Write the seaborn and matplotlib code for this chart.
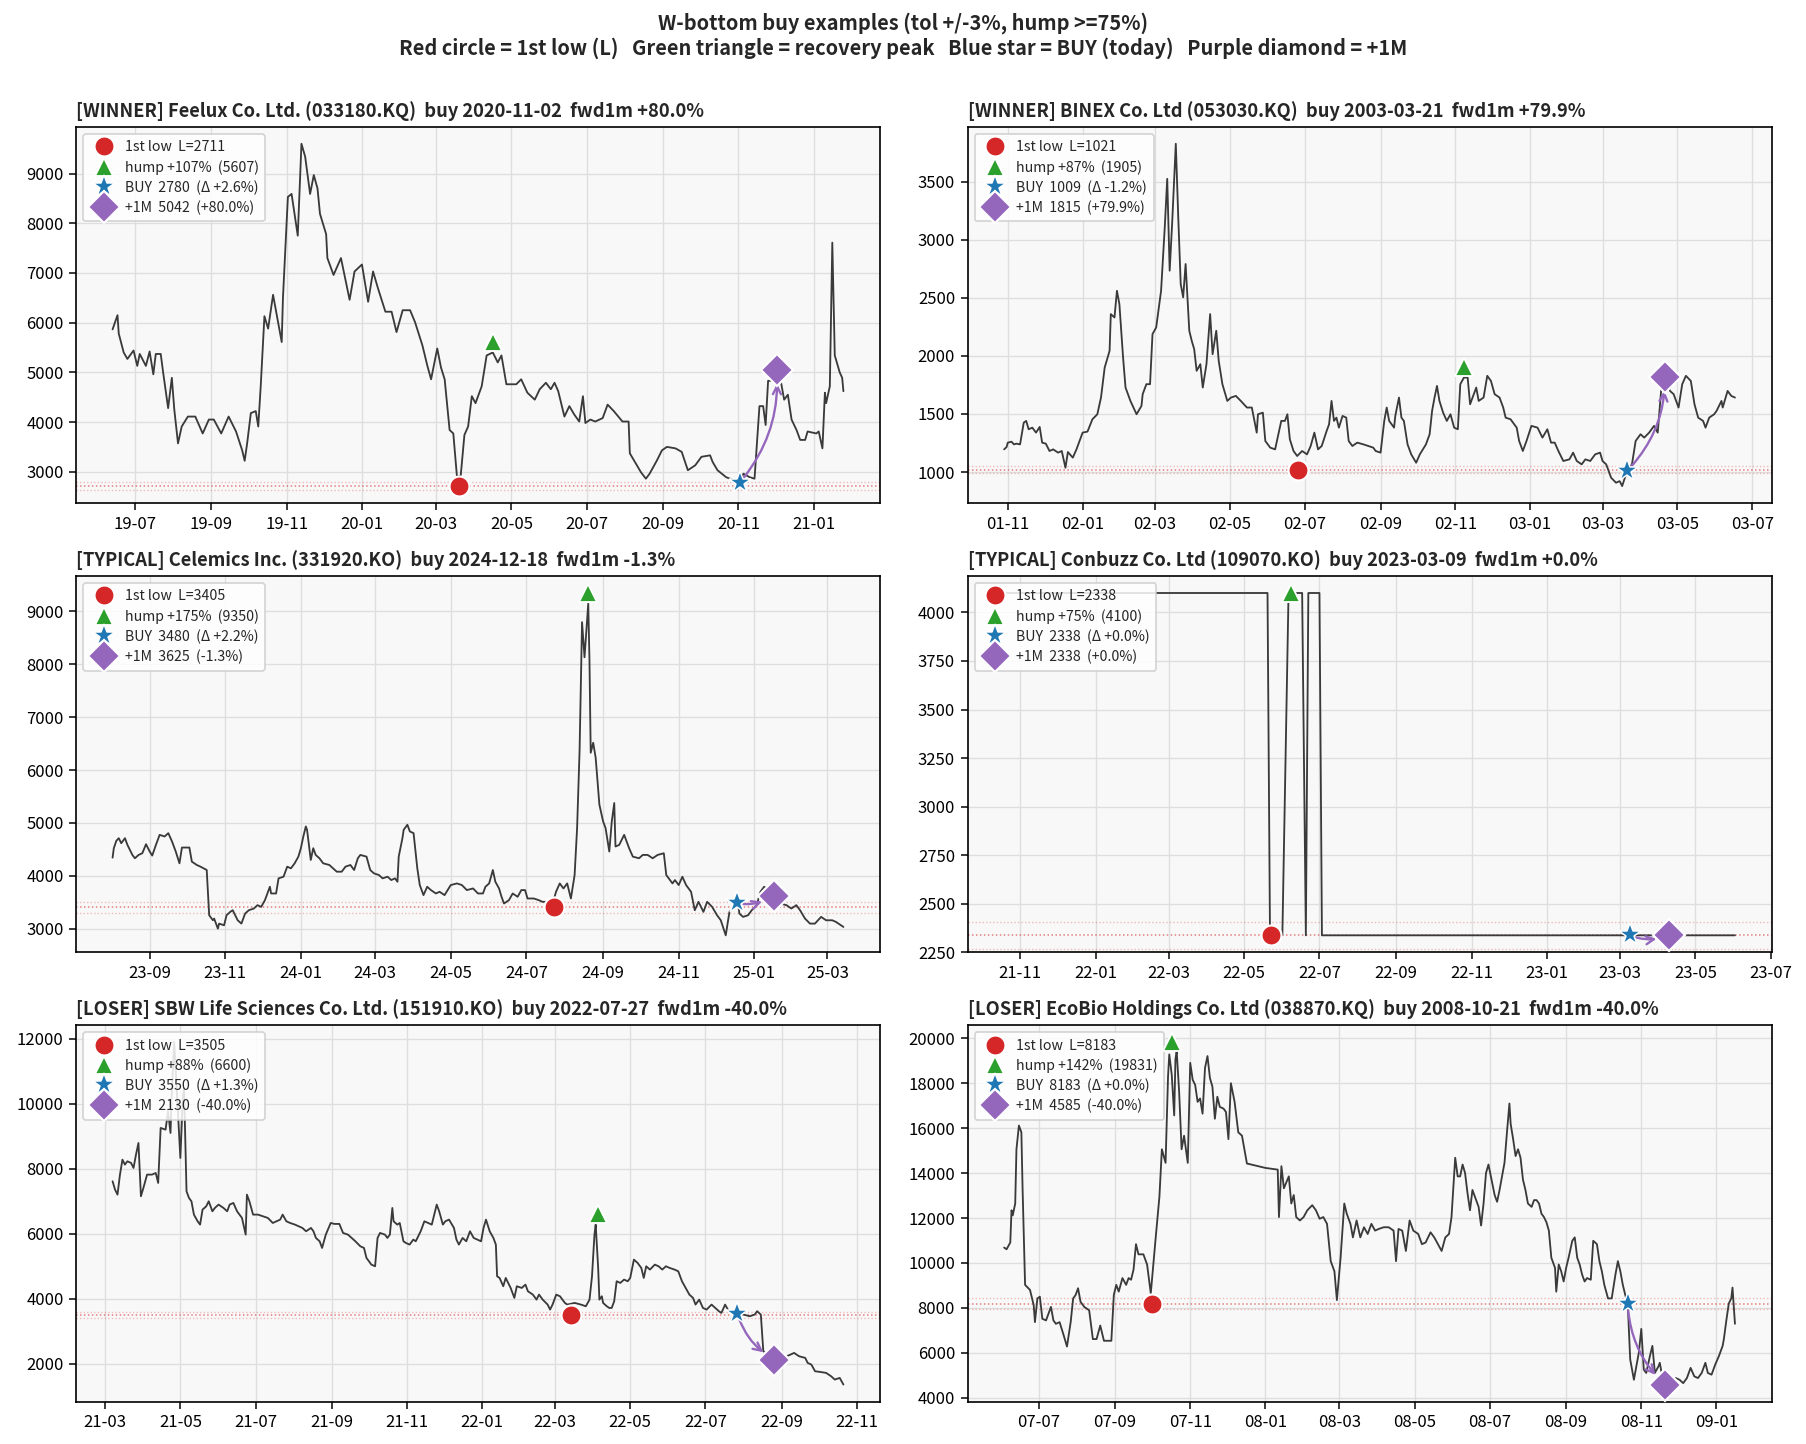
import matplotlib
matplotlib.use("Agg")
import matplotlib.pyplot as plt
import matplotlib.dates as mdates
import pandas as pd
import seaborn as sns

# ---------------- data ----------------
categories = ["WINNER", "WINNER", "TYPICAL", "TYPICAL", "LOSER", "LOSER"]
names = ["Feelux Co. Ltd.", "BINEX Co. Ltd", "Celemics Inc.", "Conbuzz Co. Ltd",
         "SBW Life Sciences Co. Ltd.", "EcoBio Holdings Co. Ltd"]
tickers = ["033180.KQ", "053030.KQ", "331920.KO", "109070.KO", "151910.KO", "038870.KQ"]
buy_dates = ["2020-11-02", "2003-03-21", "2024-12-18", "2023-03-09", "2022-07-27", "2008-10-21"]
fwd1m = [80.0, 79.9, -1.3, 0.0, -40.0, -40.0]

low_dates = ["2020-03-20", "2002-06-26", "2024-07-23", "2022-05-23", "2022-03-14", "2007-10-01"]
low_vals = [2711, 1021, 3405, 2338, 3505, 8183]
hump_dates = ["2020-04-16", "2002-11-08", "2024-08-20", "2022-06-08", "2022-04-05", "2007-10-17"]
hump_vals = [5607, 1905, 9350, 4100, 6600, 19831]
hump_pct = [107, 87, 175, 75, 88, 142]
buy_vals = [2780, 1009, 3480, 2338, 3550, 8183]
buy_delta = [2.6, -1.2, 2.2, 0.0, 1.3, 0.0]
m1_dates = ["2020-12-02", "2003-04-21", "2025-01-17", "2023-04-10", "2022-08-26", "2008-11-20"]
m1_vals = [5042, 1815, 3625, 2338, 2130, 4585]

# price series: (day offset from origin, close)
origins = ["2019-07-01", "2001-11-01", "2023-09-01", "2021-11-01", "2021-03-01", "2007-07-01"]

feelux = [(-18,5865),(-14,6150),(-13,5780),(-9,5400),(-6,5270),(-1,5440),(2,5130),(4,5370),(9,5130),(12,5420),(15,4960),(17,5370),(21,5370),(23,4990),(27,4280),(30,4890),(32,4250),(35,3570),(38,3910),(43,4110),(49,4110),(55,3770),(60,4050),(64,4050),(70,3770),(76,4110),(82,3810),(87,3430),(89,3220),(91,3570),(94,4180),(98,4220),(100,3910),(102,4720),(105,6130),(108,5880),(112,6560),(114,6290),(119,5610),(120,6490),(124,8530),(127,8590),(132,7750),(135,9600),(138,9340),(142,8590),(145,8970),(148,8700),(150,8190),(155,7780),(156,7300),(161,6960),(167,7300),(174,6460),(178,7030),(184,7170),(189,6420),(193,7030),(197,6690),(203,6220),(208,6220),(212,5810),(217,6250),(223,6250),(227,6010),(233,5540),(237,5130),(240,4860),(245,5480),(248,5100),(251,4860),(255,3840),(258,3770),(261,2890),(264,2920),(267,3740),(270,3910),(273,4520),(276,4380),(281,4720),(285,5340),(290,5400),(294,5200),(297,5340),(301,4760),(309,4760),(313,4860),(318,4590),(324,4450),(328,4660),(333,4790),(337,4660),(340,4790),(343,4620),(348,4110),(352,4320),(356,4150),(360,4010),(363,4520),(365,3980),(369,4050),(373,4010),(379,4080),(383,4350),(388,4220),(395,4010),(400,4010),(401,3370),(406,3160),(410,2990),(414,2860),(417,2960),(423,3230),(427,3430),(431,3500),(438,3470),(443,3400),(448,3030),(454,3130),(459,3300),(466,3330),(468,3200),(472,3030),(479,2890),(490,2780),(493,2960),(498,2890),(502,2860),(506,4320),(509,4320),(511,3940),(513,4830),(515,4830),(520,5042),(523,4860),(526,4450),(529,4550),(532,4050),(536,3840),(539,3640),(543,3640),(545,3810),(552,3770),(554,3810),(557,3470),(559,4590),(560,4380),(563,4720),(565,7610),(567,5340),(571,5000),(573,4890),(574,4620)]

binex = [(-3,1195),(-1,1215),(0,1253),(3,1261),(5,1238),(7,1244),(10,1238),(13,1425),(15,1440),(17,1368),(20,1382),(23,1339),(26,1388),(28,1253),(31,1244),(34,1181),(37,1195),(41,1167),(44,1181),(47,1037),(49,1172),(53,1124),(56,1195),(61,1339),(65,1348),(69,1454),(73,1497),(76,1641),(79,1899),(83,2043),(84,2359),(87,2330),(89,2560),(91,2445),(94,1986),(96,1727),(100,1612),(105,1497),(109,1569),(110,1670),(113,1756),(116,1756),(118,2187),(121,2244),(125,2560),(128,3106),(130,3523),(132,2733),(134,3135),(137,3825),(139,3193),(141,2618),(143,2503),(145,2790),(148,2216),(150,2129),(152,2057),(154,1871),(157,1928),(159,1727),(162,1928),(165,2359),(167,2014),(170,2216),(172,1957),(175,1756),(179,1612),(182,1641),(186,1655),(190,1612),(195,1555),(199,1555),(203,1339),(204,1497),(208,1511),(210,1267),(214,1210),(218,1195),(223,1440),(226,1440),(228,1497),(230,1282),(233,1181),(236,1138),(240,1181),(244,1152),(247,1224),(250,1339),(253,1195),(256,1224),(260,1353),(262,1411),(264,1612),(266,1440),(268,1468),(270,1382),(273,1483),(276,1468),(278,1267),(281,1224),(285,1253),(290,1238),(294,1224),(298,1210),(300,1181),(304,1167),(307,1440),(309,1555),(311,1440),(315,1382),(316,1483),(319,1641),(321,1468),(323,1440),(326,1238),(329,1152),(333,1080),(336,1152),(341,1238),(344,1325),(346,1526),(348,1641),(350,1741),(352,1612),(355,1511),(358,1440),(361,1497),(364,1382),(367,1368),(369,1756),(372,1813),(375,1813),(377,1583),(379,1641),(382,1727),(384,1612),(388,1641),(391,1828),(394,1784),(397,1670),(401,1641),(404,1555),(406,1468),(410,1454),(415,1382),(417,1267),(420,1181),(423,1267),(427,1397),(432,1382),(436,1296),(440,1368),(443,1253),(446,1253),(449,1181),(453,1095),(458,1109),(461,1167),(464,1095),(468,1066),(471,1109),(475,1095),(479,1152),(483,1167),(485,1095),(488,1066),(492,951),(496,908),(499,922),(501,879),(505,1009),(509,1066),(512,1267),(516,1325),(519,1296),(523,1339),(527,1397),(530,1339),(533,1727),(536,1815),(540,1698),(543,1670),(547,1555),(550,1756),(553,1828),(557,1784),(560,1583),(563,1468),(567,1440),(569,1382),(572,1468),(576,1497),(578,1526),(582,1612),(583,1555),(587,1698),(590,1655),(593,1641)]

celemics = [(-30,4343),(-29,4521),(-27,4660),(-25,4711),(-23,4616),(-20,4711),(-18,4584),(-14,4394),(-12,4331),(-9,4394),(-6,4426),(-3,4597),(0,4458),(2,4382),(5,4584),(8,4774),(12,4743),(15,4806),(18,4648),(21,4458),(24,4236),(26,4534),(32,4534),(34,4267),(38,4204),(41,4172),(46,4109),(48,3253),(51,3158),(52,3190),(55,3000),(56,3095),(60,3063),(62,3253),(65,3317),(67,3348),(71,3158),(74,3095),(77,3285),(80,3348),(84,3380),(87,3444),(90,3412),(93,3539),(97,3792),(98,3665),(102,3665),(104,3951),(108,3982),(111,4172),(114,4141),(117,4236),(120,4362),(122,4521),(124,4743),(126,4933),(127,4870),(130,4299),(132,4521),(134,4394),(137,4331),(140,4236),(145,4204),(148,4141),(151,4077),(155,4077),(158,4172),(162,4204),(165,4109),(168,4331),(170,4394),(175,4362),(178,4109),(181,4046),(185,4014),(188,3951),(192,3982),(195,3919),(198,3951),(200,3887),(201,4362),(204,4711),(205,4870),(208,4965),(210,4838),(213,4806),(216,4141),(218,3824),(221,3634),(224,3792),(227,3729),(231,3665),(234,3697),(238,3634),(243,3824),(248,3855),(252,3824),(256,3729),(261,3760),(265,3665),(269,3665),(271,3792),(274,3855),(277,4109),(279,3887),(282,3760),(284,3602),(286,3475),(290,3539),(293,3665),(297,3602),(300,3729),(303,3729),(305,3570),(310,3570),(314,3539),(317,3507),(320,3507),(325,3450),(328,3697),(331,3855),(334,3760),(337,3855),(340,3570),(343,4014),(345,4901),(347,6359),(349,8798),(351,8134),(354,9147),(355,8070),(356,6327),(358,6517),(360,6232),(363,5345),(366,5028),(368,4901),(371,4458),(373,5028),(375,5376),(376,4553),(379,4584),(383,4774),(387,4521),(390,4362),(395,4331),(398,4394),(402,4394),(406,4331),(410,4394),(415,4426),(417,4014),(422,3855),(424,3919),(427,3824),(430,3982),(433,3824),(437,3697),(440,3348),(443,3507),(447,3317),(450,3507),(454,3412),(458,3253),(461,3158),(465,2873),(468,3317),(475,3480),(476,3285),(479,3222),(483,3253),(486,3348),(490,3444),(493,3697),(496,3792),(505,3625),(509,3475),(514,3444),(518,3380),(522,3444),(525,3348),(529,3190),(533,3095),(537,3095),(542,3222),(546,3158),(551,3158),(554,3127),(560,3032)]

conbuzz = [(-13,4100),(200,4100),(202,2338),(212,2338),(217,4100),(228,4100),(231,2338),(233,4100),(242,4100),(244,2338),(578,2338)]

sbw = [(6,7621),(8,7364),(10,7210),(12,7826),(14,8287),(16,8133),(18,8236),(21,8185),(23,8031),(25,8441),(27,8800),(29,7159),(31,7415),(34,7826),(38,7826),(41,7877),(43,7569),(45,9262),(49,9210),(51,9774),(53,9108),(54,10287),(56,11900),(58,10492),(61,8338),(63,10185),(64,10492),(66,7313),(68,7108),(70,7005),(72,6595),(75,6390),(77,6287),(79,6749),(82,6851),(84,7005),(87,6697),(89,6800),(92,6903),(96,6800),(99,6697),(101,6903),(104,6954),(107,6697),(111,6492),(114,5979),(115,7210),(117,7005),(120,6595),(124,6595),(128,6544),(132,6492),(136,6338),(139,6390),(142,6441),(144,6595),(147,6390),(150,6338),(154,6287),(157,6236),(160,6185),(163,6082),(167,6185),(169,6082),(171,5877),(174,5774),(176,5569),(179,5979),(183,6338),(186,6308),(190,6308),(193,6031),(197,5979),(200,5877),(203,5774),(207,5621),(210,5569),(212,5262),(214,5159),(216,5056),(219,5005),(221,5877),(223,6031),(227,5979),(229,5877),(231,5979),(233,6800),(234,6390),(237,6287),(239,6338),(242,5774),(244,5723),(247,5672),(250,5826),(252,5774),(256,6082),(259,6390),(262,6338),(265,6287),(269,6903),(271,6697),(274,6287),(276,6390),(279,6441),(283,6185),(285,5826),(287,5672),(290,5877),(293,5774),(296,6082),(299,5877),(302,5826),(305,5774),(307,6185),(309,6441),(312,6082),(315,5877),(317,5672),(318,4697),(320,4646),(323,4390),(325,4646),(329,4338),(332,4031),(334,4390),(338,4338),(341,4441),(343,4236),(347,4133),(350,3979),(352,4133),(355,3979),(359,3826),(361,3672),(363,3826),(366,4133),(369,4082),(373,3877),(375,3826),(381,3877),(386,3826),(390,3774),(393,3979),(395,4697),(397,5979),(398,6287),(400,4954),(401,3979),(403,4082),(404,3877),(407,3774),(409,3723),(411,3723),(413,3928),(415,4544),(418,4492),(421,4595),(424,4544),(426,4646),(429,5210),(432,5108),(435,4954),(437,4646),(439,5005),(442,4903),(446,5056),(449,5005),(452,4903),(455,5005),(458,4954),(462,4903),(465,4851),(468,4544),(471,4338),(474,4133),(477,4031),(479,3826),(482,3979),(485,3723),(488,3672),(492,3826),(495,3723),(498,3621),(500,3569),(503,3826),(506,3621),(513,3550),(518,3518),(523,3467),(527,3518),(529,3621),(532,3518),(534,2390),(536,2338),(544,2130),(548,2185),(553,2236),(559,2338),(563,2236),(568,2185),(570,2031),(573,1979),(576,1774),(580,1754),(585,1723),(589,1621),(592,1518),(596,1569),(599,1364)]

ecobio = [(-28,10687),(-26,10611),(-23,10913),(-22,12347),(-21,12121),(-19,12649),(-18,15064),(-16,16121),(-14,15819),(-13,13253),(-11,9026),(-7,8800),(-4,8121),(-3,7366),(-1,8423),(1,8498),(3,7517),(6,7442),(10,8045),(12,7442),(14,7291),(17,7366),(20,6838),(23,6279),(26,7366),(28,8423),(30,8574),(32,8875),(34,8272),(37,8045),(41,7894),(44,6611),(47,6611),(50,7215),(53,6536),(56,6536),(59,6536),(61,8574),(63,9026),(65,8725),(68,9328),(71,9026),(73,9328),(75,9253),(77,9706),(79,10838),(81,10385),(85,10385),(88,9932),(91,8649),(95,11140),(98,12951),(100,15064),(103,14460),(105,18309),(106,19291),(108,18385),(110,16574),(111,19064),(112,19442),(114,17630),(116,15064),(118,15668),(121,14460),(123,18913),(125,18158),(127,17932),(129,17177),(131,17328),(133,16649),(135,18687),(137,19215),(139,18234),(141,17857),(143,16423),(145,17404),(147,16951),(150,16876),(152,16725),(154,15517),(156,18008),(159,17177),(160,16725),(162,15819),(165,15668),(169,14430),(184,14234),(194,14158),(195,12045),(197,14309),(199,13328),(203,13857),(205,12649),(207,13026),(209,12045),(212,11894),(215,12045),(218,12347),(222,12574),(225,12347),(228,11970),(231,12045),(234,11743),(237,10083),(240,9630),(242,8347),(245,10234),(248,12649),(250,12196),(253,11743),(255,11140),(258,11894),(261,11140),(264,11592),(267,11291),(270,11743),(273,11442),(276,11517),(280,11592),(284,11592),(288,11442),(290,10083),(292,11517),(295,11442),(298,10536),(301,11894),(304,11442),(308,11291),(311,10838),(314,10913),(318,11366),(321,11140),(324,10838),(327,10536),(330,11140),(333,11291),(335,12045),(338,14687),(340,13857),(342,13857),(344,14385),(346,14008),(348,13102),(350,12347),(352,13253),(355,12800),(357,12498),(359,11668),(361,12649),(363,14008),(365,14385),(368,13555),(370,13026),(372,12725),(374,13253),(376,13857),(378,14460),(380,15819),(382,17102),(383,16196),(385,15517),(387,14762),(389,15064),(391,14687),(393,13706),(395,13253),(397,12649),(400,12498),(402,12800),(404,12800),(406,12649),(408,12196),(410,12045),(412,11819),(414,11442),(416,10234),(419,9781),(420,8725),(422,9932),(424,9630),(426,9177),(428,9781),(430,10234),(433,10989),(435,11140),(437,10234),(439,9932),(441,9479),(443,9177),(445,9328),(448,9253),(450,10989),(453,10838),(455,10083),(457,9630),(459,9026),(462,8423),(465,8423),(468,9479),(470,10083),(472,9630),(474,9026),(476,8574),(478,8183),(480,5706),(483,4800),(485,5404),(487,6008),(489,7064),(491,5253),(493,5102),(496,5857),(498,6309),(500,5102),(503,5404),(504,5555),(506,4951),(508,4585),(512,4725),(517,4875),(520,4800),(523,4649),(526,4875),(529,5328),(532,4951),(535,4875),(538,5102),(541,5555),(543,5102),(546,5026),(549,5479),(552,5857),(555,6309),(556,6611),(558,7442),(560,8196),(562,8423),(563,8906),(565,7291)]

series = [feelux, binex, celemics, conbuzz, sbw, ecobio]

# ---------------- style ----------------
sns.set_theme(style="ticks")
plt.rcParams["font.family"] = ["Noto Sans CJK KR", "DejaVu Sans"]
plt.rcParams["axes.unicode_minus"] = False

fig, axes = plt.subplots(3, 2, figsize=(1806 / 120, 1444 / 120), dpi=120)
fig.subplots_adjust(left=0.0421, right=0.9809, top=0.9123, bottom=0.0293,
                    wspace=0.109, hspace=0.193)

fig.suptitle("W-bottom buy examples (tol +/-3%, hump >=75%)\n"
             "Red circle = 1st low (L)   Green triangle = recovery peak   "
             "Blue star = BUY (today)   Purple diamond = +1M",
             fontsize=12, fontweight="bold", y=0.992, va="top")

RED, GREEN, BLUE, PURPLE = "#d62728", "#2ca02c", "#1f77b4", "#9467bd"

for i, ax in enumerate(axes.flat):
    days, vals = zip(*series[i])
    dates = pd.to_datetime(origins[i]) + pd.to_timedelta(list(days), unit="D")
    df = pd.DataFrame({"date": dates, "close": vals})

    ax.set_facecolor("#f8f8f8")
    ax.grid(True, color="#dedede", lw=0.8)
    ax.set_axisbelow(True)

    sns.lineplot(data=df, x="date", y="close", ax=ax, color="#3a3a3a", lw=1.1,
                 estimator=None, sort=True, zorder=2)

    L, H, B, M = low_vals[i], hump_vals[i], buy_vals[i], m1_vals[i]
    dL, dH, dB, dM = (pd.to_datetime(d) for d in (low_dates[i], hump_dates[i],
                                                  buy_dates[i], m1_dates[i]))

    ax.plot([dL], [L], "o", color=RED, ms=12, mec="white", mew=1.3, zorder=6,
            label=f"1st low  L={L}")
    ax.plot([dH], [H], "^", color=GREEN, ms=10.5, mec="white", mew=1.1, zorder=6,
            label=f"hump +{hump_pct[i]}%  ({H})")
    ax.plot([dB], [B], "*", color=BLUE, ms=14, mec="white", mew=0.9, zorder=6,
            label=f"BUY  {B}  (\u0394 {buy_delta[i]:+.1f}%)")
    ax.plot([dM], [M], "D", color=PURPLE, ms=13.5, mec="white", mew=1.3, zorder=7,
            label=f"+1M  {M}  ({fwd1m[i]:+.1f}%)")

    ax.annotate("", xy=(dM, M), xytext=(dB, B), zorder=5,
                arrowprops=dict(arrowstyle="->", color=PURPLE, lw=1.4,
                                connectionstyle="arc3,rad=0.2",
                                shrinkA=4, shrinkB=8))

    ax.set_ylim(ax.get_ylim())
    ax.axhline(L, color=RED, ls=":", lw=0.9, alpha=0.6, zorder=1)
    ax.axhline(L * 0.97, color=RED, ls=":", lw=0.8, alpha=0.3, zorder=1)
    ax.axhline(L * 1.03, color=RED, ls=":", lw=0.8, alpha=0.3, zorder=1)

    ax.xaxis.set_major_locator(mdates.MonthLocator(bymonth=[1, 3, 5, 7, 9, 11]))
    ax.xaxis.set_major_formatter(mdates.DateFormatter("%y-%m"))
    ax.tick_params(labelsize=10, length=4, width=0.9, colors="black")
    ax.set_xlabel("")
    ax.set_ylabel("")
    for sp in ax.spines.values():
        sp.set_visible(True)
        sp.set_color("black")
        sp.set_linewidth(1.0)

    ax.set_title(f"[{categories[i]}] {names[i]} ({tickers[i]})  buy {buy_dates[i]}  "
                 f"fwd1m {fwd1m[i]:+.1f}%", loc="left", fontsize=11,
                 fontweight="bold", pad=6)
    ax.legend(loc="upper left", fontsize=8.5, framealpha=0.85, labelspacing=0.4,
              borderpad=0.45, handletextpad=0.5, edgecolor="#cccccc")

fig.savefig("out.png", dpi=120)
